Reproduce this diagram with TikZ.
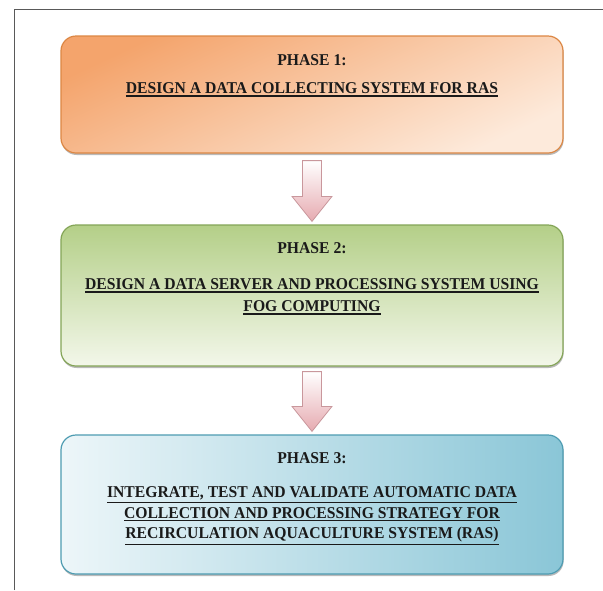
\documentclass[tikz,border=0pt]{standalone}
\usepackage{fontspec}
\setmainfont[FakeStretch=0.95]{Liberation Serif}
\usetikzlibrary{calc,shadows}
\definecolor{orTop}{HTML}{F4A46C}
\definecolor{orBot}{HTML}{FDEADB}
\definecolor{orLine}{HTML}{DC8744}
\definecolor{grTop}{HTML}{B4CF88}
\definecolor{grBot}{HTML}{F3F7EA}
\definecolor{grLine}{HTML}{84A557}
\definecolor{blL}{HTML}{EDF6F9}
\definecolor{blR}{HTML}{8AC6D7}
\definecolor{blLine}{HTML}{4E9CB2}
\definecolor{pkBot}{HTML}{E6AAB0}
\definecolor{pkLine}{HTML}{C9979C}
\definecolor{txt}{HTML}{1A1A1A}
\newcommand\undl[1]{\leavevmode\vtop{\hbox{#1}\kern1.6pt\hrule height 1.3pt}}
\tikzset{
  phasebox/.style={rectangle, rounded corners=15pt, minimum width=502pt, line width=1.2pt,
    drop shadow={shadow xshift=0.6pt, shadow yshift=-2pt, opacity=0.45, fill=black!60}},
  tline/.style={anchor=base, inner sep=0pt, text=txt, font=\fontsize{16.5}{21}\selectfont\bfseries},
  blockarrow/.style={draw=pkLine, line width=0.8pt, top color=white, bottom color=pkBot, line join=miter}
}
\begin{document}
\begin{tikzpicture}[x=1pt,y=-1pt]
\useasboundingbox (0,0) rectangle (603,590);
\fill[white] (0,0) rectangle (603,590);
\coordinate (fa) at (14,590);
\coordinate (fb) at (14,9);
\coordinate (fc) at (603,9);
\draw[black!65, line width=1pt] (fa) -- (fb) -- (fc);

\node[phasebox, draw=orLine, top color=orTop, bottom color=orBot, shading angle=25, minimum height=117pt] (b1) at (312,94.5) {};
\node[phasebox, draw=grLine, top color=grTop, bottom color=grBot, minimum height=141pt] (b2) at (312,295.5) {};
\node[phasebox, draw=blLine, left color=blL, right color=blR, minimum height=139pt] (b3) at (312,504.5) {};

\node[tline] (t1) at (312,65.5) {PHASE 1:};
\node[tline] (l11) at (312,93.5) {\undl{DESIGN A DATA COLLECTING SYSTEM FOR RAS}};

\node[tline] (t2) at (312,253.5) {PHASE 2:};
\node[tline] (l21) at (312,289.5) {\undl{DESIGN A DATA SERVER AND PROCESSING SYSTEM USING}};
\node[tline] (l22) at (312,311.5) {\undl{FOG COMPUTING}};

\node[tline] (t3) at (312,463.5) {PHASE 3:};
\node[tline] (l31) at (312,497.5) {\undl{INTEGRATE, TEST AND VALIDATE AUTOMATIC DATA}};
\node[tline] (l32) at (312,518) {\undl{COLLECTION AND PROCESSING STRATEGY FOR}};
\node[tline] (l33) at (312,538.5) {\undl{RECIRCULATION AQUACULTURE SYSTEM (RAS)}};

\draw[blockarrow] ($(b1.south)+(-9.5,7)$) -- ($(b1.south)+(9.5,7)$) -- ($(b2.north)+(9.5,-28)$)
  -- ($(b2.north)+(20,-28)$) -- ($(b2.north)+(0,-3)$) -- ($(b2.north)+(-20,-28)$)
  -- ($(b2.north)+(-9.5,-28)$) -- cycle;
\draw[blockarrow] ($(b2.south)+(-9.5,5)$) -- ($(b2.south)+(9.5,5)$) -- ($(b3.north)+(9.5,-28)$)
  -- ($(b3.north)+(20,-28)$) -- ($(b3.north)+(0,-3)$) -- ($(b3.north)+(-20,-28)$)
  -- ($(b3.north)+(-9.5,-28)$) -- cycle;
\end{tikzpicture}
\end{document}
